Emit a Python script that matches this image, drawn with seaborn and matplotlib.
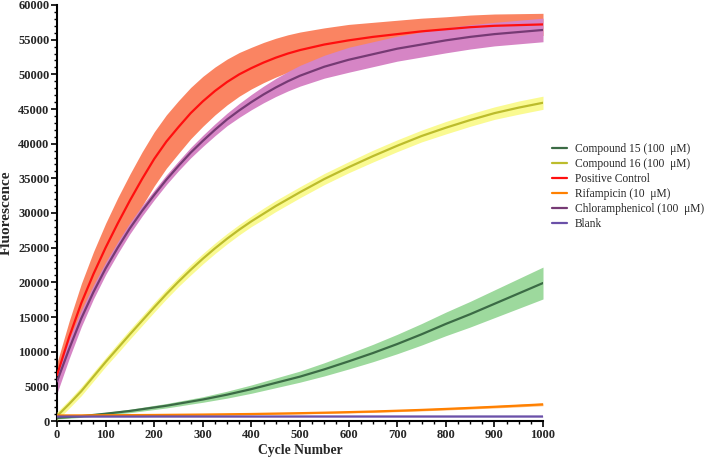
import matplotlib.pyplot as plt
import pandas as pd
import seaborn as sns
from matplotlib.ticker import MultipleLocator

# values
cycles = [0, 25, 50, 75, 100, 125, 150, 175, 200, 225, 250, 275, 300, 325, 350, 375,
          400, 425, 450, 475, 500, 550, 600, 650, 700, 750, 800, 850, 900, 950, 1000]

compound15 = [450, 570, 700, 870, 1050, 1250, 1450, 1700, 1950, 2200, 2500, 2800, 3100, 3450, 3800, 4200,
              4600, 5050, 5500, 5950, 6400, 7450, 8600, 9800, 11100, 12500, 14000, 15400, 16900, 18400, 19900]
compound15_sd = [150, 170, 180, 190, 200, 220, 250, 270, 300, 320, 350, 370, 400, 450, 500, 550,
                 600, 650, 700, 750, 800, 950, 1100, 1250, 1400, 1550, 1700, 1850, 2000, 2150, 2300]

compound16 = [700, 2450, 4300, 6400, 8500, 10500, 12500, 14450, 16400, 18300, 20100, 21800, 23400, 24900, 26300, 27600,
              28800, 29900, 31000, 32000, 33000, 34900, 36600, 38200, 39700, 41100, 42300, 43400, 44400, 45200, 45900]
compound16_sd = [600, 600, 650, 650, 650, 700, 700, 700, 700, 700, 700, 750, 750, 750, 750, 750,
                 750, 800, 800, 800, 800, 800, 800, 850, 850, 850, 900, 900, 900, 950, 950]

positive = [6600, 12100, 17000, 21200, 25000, 28500, 31800, 34900, 37800, 40300, 42400, 44400, 46100, 47600, 48900, 50000,
            50900, 51700, 52400, 53000, 53500, 54300, 54900, 55400, 55800, 56200, 56500, 56800, 57000, 57100, 57200]
positive_sd = [1800, 2300, 2800, 3200, 3500, 3700, 3800, 3900, 3900, 3850, 3800, 3700, 3600, 3450, 3300, 3150,
               3000, 2900, 2800, 2700, 2600, 2400, 2300, 2100, 2000, 1900, 1800, 1750, 1700, 1650, 1600]

rifampicin = [800, 805, 810, 820, 830, 840, 850, 860, 870, 885, 900, 915, 930, 950, 970, 990,
              1010, 1040, 1070, 1100, 1130, 1200, 1280, 1370, 1480, 1600, 1740, 1890, 2050, 2220, 2400]
rifampicin_sd = [80, 80, 80, 80, 80, 85, 85, 85, 90, 90, 90, 90, 95, 95, 100, 100,
                 100, 105, 105, 110, 110, 120, 120, 130, 130, 140, 150, 160, 170, 180, 190]

chloramphenicol = [5700, 10400, 14800, 18600, 22000, 25000, 27800, 30300, 32600, 34800, 36800, 38700, 40400, 42000, 43500, 44800,
                   46000, 47100, 48100, 49000, 49800, 51100, 52100, 52900, 53700, 54300, 54900, 55400, 55800, 56100, 56400]
chloramphenicol_sd = [1700, 1400, 1200, 1000, 900, 850, 800, 750, 700, 700, 700, 750, 800, 850, 900, 1000,
                      1100, 1200, 1300, 1400, 1500, 1650, 1800, 1800, 1800, 1800, 1800, 1750, 1700, 1700, 1700]

blank = [640, 640, 640, 645, 645, 645, 645, 645, 650, 650, 650, 650, 650, 650, 650, 650,
         650, 650, 650, 650, 650, 650, 650, 650, 650, 650, 650, 650, 650, 650, 650]
blank_sd = [40, 40, 40, 40, 40, 40, 40, 40, 40, 40, 40, 40, 40, 40, 40, 40,
            40, 40, 40, 40, 40, 40, 40, 40, 40, 40, 40, 40, 40, 40, 40]

labels = [
    "Compound 15 (100  \u03bcM)",
    "Compound 16 (100  \u03bcM)",
    "Positive Control",
    "Rifampicin (10  \u03bcM)",
    "Chloramphenicol (100  \u03bcM)",
    "Blank",
]
means = [compound15, compound16, positive, rifampicin, chloramphenicol, blank]
sds = [compound15_sd, compound16_sd, positive_sd, rifampicin_sd, chloramphenicol_sd, blank_sd]
line_colors = ["#3b6b45", "#bcbc2c", "#ff0f0f", "#ff8000", "#763a74", "#6a50a8"]
band_colors = ["#9dd99d", "#fafa92", "#fa8462", "#ffb870", "#d685c5", "#a898d8"]

df = pd.concat(
    [
        pd.DataFrame({"cycle": cycles, "mean": m, "sd": s, "sample": lab})
        for lab, m, s in zip(labels, means, sds)
    ],
    ignore_index=True,
)

sns.set_style("ticks")
plt.rcParams["font.family"] = "serif"
plt.rcParams["font.serif"] = ["Liberation Serif", "DejaVu Serif"]

fig = plt.figure(figsize=(7.09, 4.58), dpi=100)
ax = fig.add_axes([57 / 709, 37 / 458, 486 / 709, 416 / 458])

# bands first, stacked like the reference (pink over salmon)
band_order = [2, 4, 1, 0, 3, 5]
for z, i in enumerate(band_order):
    sub = df[df["sample"] == labels[i]]
    ax.fill_between(
        sub["cycle"],
        sub["mean"] - sub["sd"],
        sub["mean"] + sub["sd"],
        color=band_colors[i],
        linewidth=0,
        zorder=1 + z,
    )

sns.lineplot(
    data=df,
    x="cycle",
    y="mean",
    hue="sample",
    hue_order=labels,
    palette=dict(zip(labels, line_colors)),
    linewidth=1.6,
    ax=ax,
    zorder=10,
)

ax.set_xlim(0, 1000)
ax.set_ylim(0, 60000)
ax.xaxis.set_major_locator(MultipleLocator(100))
ax.xaxis.set_minor_locator(MultipleLocator(25))
ax.yaxis.set_major_locator(MultipleLocator(5000))
ax.yaxis.set_minor_locator(MultipleLocator(1000))
ax.tick_params(which="major", direction="out", length=4, width=1.2, pad=1.5,
               labelsize=9, color="black")
ax.tick_params(which="minor", direction="out", length=2.5, width=1, color="black")
sns.despine(ax=ax)
for side in ("left", "bottom"):
    ax.spines[side].set_linewidth(1.5)
    ax.spines[side].set_color("black")

ax.set_xlabel("Cycle Number", fontsize=9.8, fontweight="bold")
ax.set_ylabel("Fluorescence", fontsize=11, fontweight="bold")
ax.xaxis.set_label_coords(0.5, -0.056)
ax.yaxis.set_label_coords(-0.09, 0.5)

handles, leg_labels = ax.get_legend_handles_labels()
ax.get_legend().remove()
fig.legend(
    handles,
    leg_labels,
    loc="upper left",
    bbox_to_anchor=(547 / 709, 1 - 138 / 458),
    frameon=False,
    fontsize=8.3,
    handlelength=1.3,
    handletextpad=0.7,
    labelspacing=0.27,
    borderaxespad=0,
)

fig.canvas.draw()
plt.setp(ax.get_xticklabels() + ax.get_yticklabels(), fontweight="bold")

fig.savefig("out.png", dpi=100)
plt.close()
